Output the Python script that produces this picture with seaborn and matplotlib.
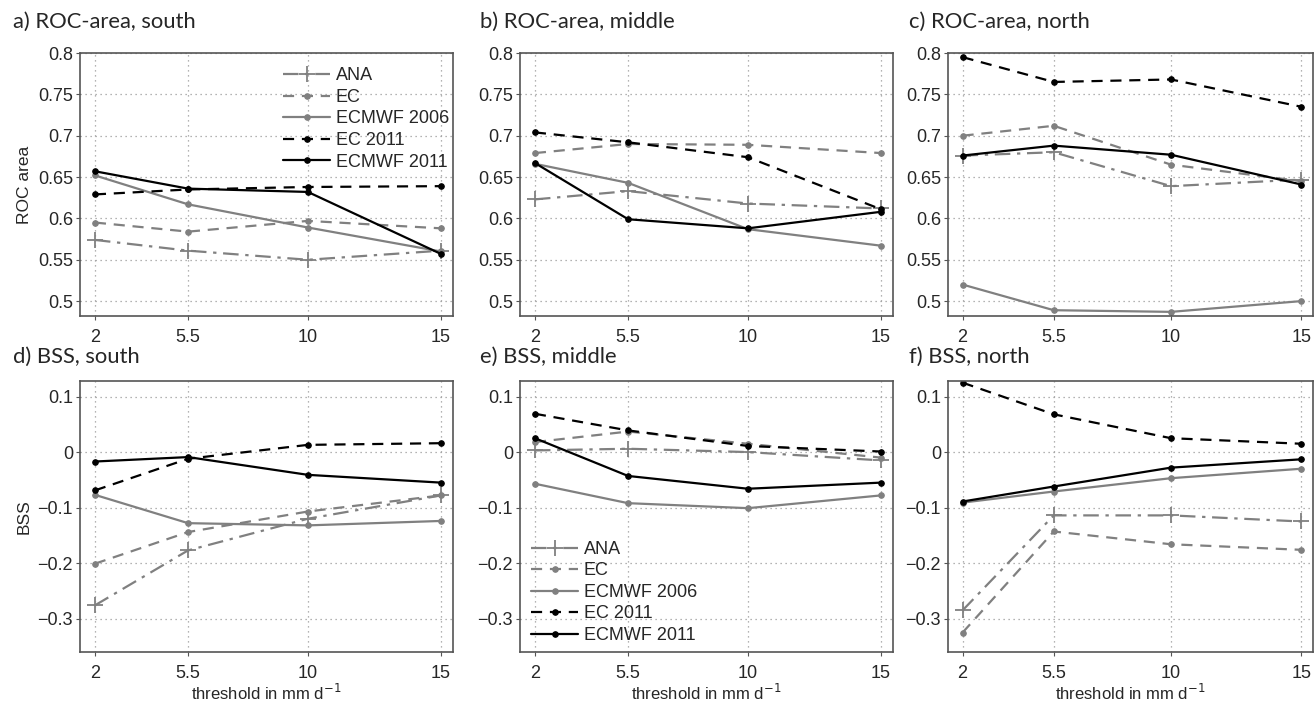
import matplotlib
matplotlib.use("Agg")
import matplotlib.pyplot as plt
import seaborn as sns
import numpy as np

sns.set_style("white")
plt.rcParams['font.family'] = ['Liberation Sans', 'DejaVu Sans']

thresholds = [2, 5.5, 10, 15]
series_names = ["ANA", "EC", "ECMWF 2006", "EC 2011", "ECMWF 2011"]

# ROC area
roc_south = {
    "ANA": [0.574, 0.561, 0.550, 0.561],
    "EC": [0.595, 0.584, 0.597, 0.588],
    "ECMWF 2006": [0.652, 0.617, 0.589, 0.560],
    "EC 2011": [0.629, 0.635, 0.638, 0.639],
    "ECMWF 2011": [0.657, 0.636, 0.632, 0.557],
}
roc_middle = {
    "ANA": [0.623, 0.633, 0.618, 0.612],
    "EC": [0.679, 0.690, 0.689, 0.679],
    "ECMWF 2006": [0.666, 0.643, 0.587, 0.567],
    "EC 2011": [0.704, 0.692, 0.674, 0.611],
    "ECMWF 2011": [0.667, 0.599, 0.588, 0.608],
}
roc_north = {
    "ANA": [0.676, 0.680, 0.639, 0.647],
    "EC": [0.700, 0.712, 0.665, 0.645],
    "ECMWF 2006": [0.520, 0.489, 0.487, 0.500],
    "EC 2011": [0.795, 0.765, 0.768, 0.735],
    "ECMWF 2011": [0.676, 0.688, 0.677, 0.641],
}
# BSS
bss_south = {
    "ANA": [-0.276, -0.177, -0.120, -0.078],
    "EC": [-0.201, -0.144, -0.107, -0.078],
    "ECMWF 2006": [-0.077, -0.128, -0.132, -0.124],
    "EC 2011": [-0.069, -0.012, 0.013, 0.016],
    "ECMWF 2011": [-0.017, -0.009, -0.041, -0.055],
}
bss_middle = {
    "ANA": [0.003, 0.006, 0.000, -0.015],
    "EC": [0.018, 0.037, 0.015, -0.010],
    "ECMWF 2006": [-0.057, -0.092, -0.101, -0.078],
    "EC 2011": [0.069, 0.039, 0.011, 0.001],
    "ECMWF 2011": [0.025, -0.043, -0.066, -0.055],
}
bss_north = {
    "ANA": [-0.285, -0.114, -0.114, -0.125],
    "EC": [-0.325, -0.143, -0.166, -0.176],
    "ECMWF 2006": [-0.091, -0.071, -0.047, -0.030],
    "EC 2011": [0.125, 0.068, 0.025, 0.015],
    "ECMWF 2011": [-0.089, -0.062, -0.028, -0.013],
}

titles = ["a) ROC-area, south", "b) ROC-area, middle", "c) ROC-area, north",
          "d) BSS, south", "e) BSS, middle", "f) BSS, north"]
roc_ticks = [0.5, 0.55, 0.6, 0.65, 0.7, 0.75, 0.8]
roc_ticklabels = ["0.5", "0.55", "0.6", "0.65", "0.7", "0.75", "0.8"]
bss_ticks = [-0.3, -0.2, -0.1, 0, 0.1]
bss_ticklabels = ["\u22120.3", "\u22120.2", "\u22120.1", "0", "0.1"]
x_ticklabels = ["2", "5.5", "10", "15"]

GRAY = "#808080"
styles = {
    "ANA": dict(color=GRAY, linestyle=(0, (7, 3, 1.5, 3)), marker="+", markersize=11, mew=1.3, lw=1.6),
    "EC": dict(color=GRAY, linestyle=(0, (5, 3.5)), marker="o", markersize=4, lw=1.6),
    "ECMWF 2006": dict(color=GRAY, linestyle="-", marker="o", markersize=4, lw=1.6),
    "EC 2011": dict(color="black", linestyle=(0, (5, 3.5)), marker="o", markersize=4, lw=1.6),
    "ECMWF 2011": dict(color="black", linestyle="-", marker="o", markersize=4, lw=1.6),
}

W, H = 1315, 704
fig = plt.figure(figsize=(W / 100, H / 100), dpi=100)

def rect(left, right, top, bottom):
    return [left / W, 1 - bottom / H, (right - left) / W, (bottom - top) / H]

cols = [(80, 453), (520, 893), (948, 1313)]
rows = [(53, 316), (381, 652)]
datasets = [roc_south, roc_middle, roc_north, bss_south, bss_middle, bss_north]
title_pos = [(13, 22), (480, 22), (909, 22), (13, 357), (480, 357), (909, 357)]

axes = []
for i, data in enumerate(datasets):
    r, c = divmod(i, 3)
    ax = fig.add_axes(rect(cols[c][0], cols[c][1], rows[r][0], rows[r][1]))
    axes.append(ax)
    for name in series_names:
        st = dict(styles[name])
        sns.lineplot(x=thresholds, y=data[name], ax=ax, label=name,
                     markeredgecolor=st["color"], markerfacecolor=st["color"], **st)
    ax.set_xlim(1.44, 15.45)
    ax.set_xticks(thresholds)
    ax.set_xticklabels(x_ticklabels)
    if r == 0:
        ax.set_ylim(0.482, 0.8)
        ax.set_yticks(roc_ticks)
        ax.set_yticklabels(roc_ticklabels)
    else:
        ax.set_ylim(-0.36, 0.128)
        ax.set_yticks(bss_ticks)
        ax.set_yticklabels(bss_ticklabels)
        ax.set_xlabel("threshold in mm d$^{-1}$", fontsize=12, labelpad=1)
    ax.grid(True, linestyle=(0, (1, 3)), color="#9a9a9a", linewidth=0.9)
    for sp in ax.spines.values():
        sp.set_color("#555555")
        sp.set_linewidth(1.2)
    ax.tick_params(axis="both", labelsize=13, length=3, width=0.8, color="#555555",
                   direction="out", pad=2, bottom=True, left=True)
    ax.tick_params(axis="x", pad=6)
    lg = ax.get_legend()
    if lg is not None:
        lg.remove()
    ax.set_ylabel("")
    fig.text(title_pos[i][0] / W, 1 - title_pos[i][1] / H, titles[i], fontsize=15.8,
             va="center", ha="left", family=["Lato", "DejaVu Sans"])

axes[0].set_ylabel("ROC area", fontsize=12.5, labelpad=4)
axes[3].set_ylabel("BSS", fontsize=12.5, labelpad=4)

leg_kw = dict(frameon=False, fontsize=13, handlelength=2.6, handletextpad=0.3,
              labelspacing=0.25, borderpad=0, borderaxespad=0)
axes[0].legend(loc="upper left", bbox_to_anchor=(0.545, 0.945), **leg_kw)
axes[4].legend(loc="upper left", bbox_to_anchor=(0.03, 0.41), **leg_kw)

fig.savefig("out.png", dpi=100)
